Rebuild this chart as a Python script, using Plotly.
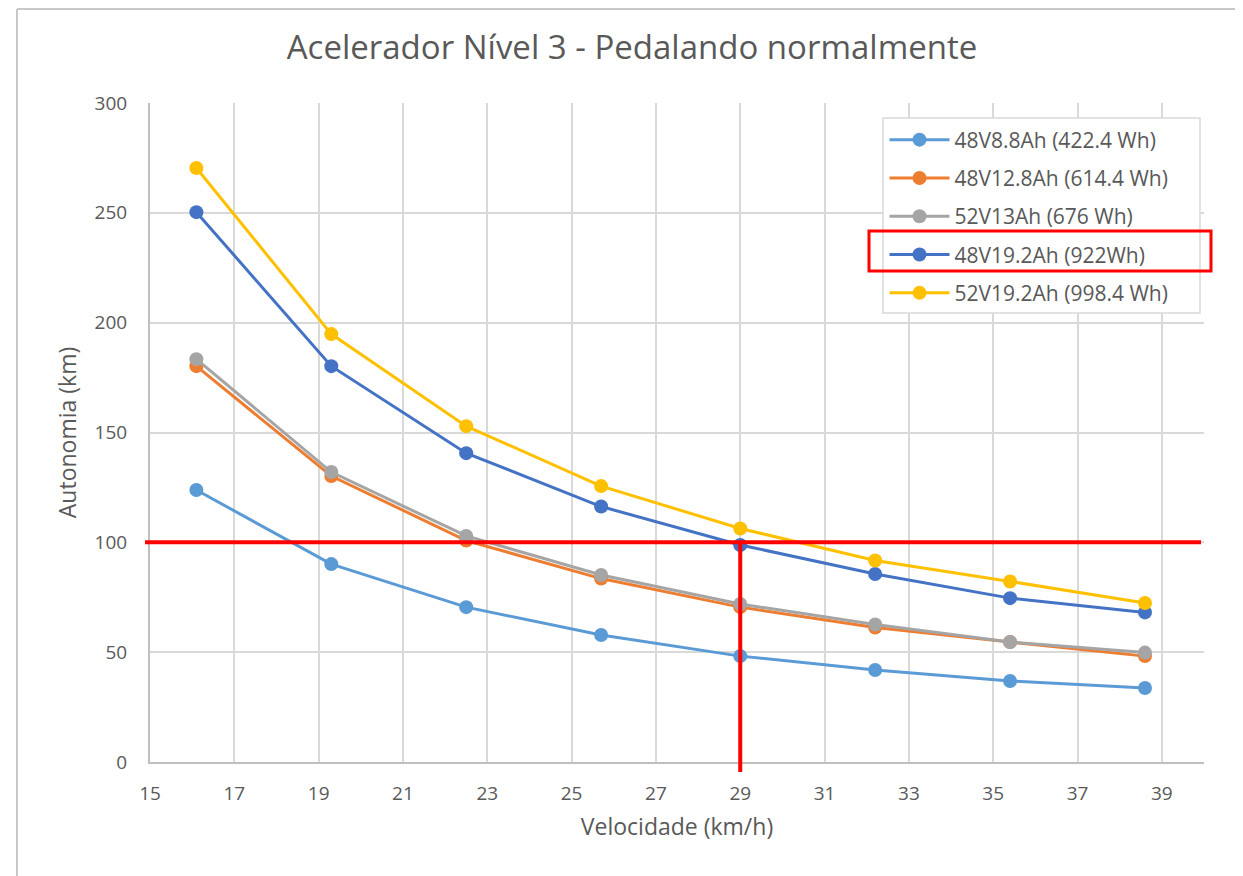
import plotly.graph_objects as go

# ---- data ----
speeds = [16.1, 19.3, 22.5, 25.7, 29.0, 32.2, 35.4, 38.6]
series_names = [
    "48V8.8Ah (422.4 Wh)",
    "48V12.8Ah (614.4 Wh)",
    "52V13Ah (676 Wh)",
    "48V19.2Ah (922Wh)",
    "52V19.2Ah (998.4 Wh)",
]
s_48v88 = [123.8, 90.1, 70.5, 57.8, 48.2, 41.9, 36.9, 33.7]
s_48v128 = [180.2, 130.2, 100.8, 83.5, 70.5, 61.2, 54.6, 48.2]
s_52v13 = [183.4, 132.0, 102.9, 85.1, 71.9, 62.6, 54.6, 49.8]
s_48v192 = [250.3, 180.2, 140.6, 116.3, 98.8, 85.6, 74.6, 68.1]
s_52v192 = [270.4, 194.8, 152.9, 125.6, 106.3, 91.7, 82.2, 72.4]
series_values = [s_48v88, s_48v128, s_52v13, s_48v192, s_52v192]
colors = ["#5B9BD5", "#ED7D31", "#A5A5A5", "#4472C4", "#FFC000"]

ref_speed = 29
ref_range = 100

# ---- layout geometry (page has an 8px body margin) ----
OFF = 8
W, H = 1243 - OFF, 876 - OFF
PLOT_L, PLOT_R, PLOT_T, PLOT_B = 150, 1204, 103, 762  # page pixels
ML = PLOT_L - OFF
MT = PLOT_T - OFF
MR = (W + OFF) - PLOT_R
MB = (H + OFF) - PLOT_B
PW = PLOT_R - PLOT_L
PH = PLOT_B - PLOT_T
X_RANGE = [15, 40]
Y_RANGE = [0, 300]


def px_x(p):
    return (p - PLOT_L) / PW


def px_y(p):
    return (PLOT_B - p) / PH


fig = go.Figure()
for i, (name, vals) in enumerate(zip(series_names, series_values)):
    fig.add_trace(go.Scatter(
        x=speeds, y=vals, name=name, mode="lines+markers",
        line=dict(color=colors[i], width=3),
        marker=dict(color=colors[i], size=14),
        legendgroup=f"g{i}",
    ))

font_color = "#595959"
yref_frac = (ref_range - Y_RANGE[0]) / (Y_RANGE[1] - Y_RANGE[0])
xref_frac = (ref_speed - X_RANGE[0]) / (X_RANGE[1] - X_RANGE[0])
shapes = []
# legend box (drawn as a shape so it can be wider than the entries)
shapes.append(dict(type="rect", xref="paper", yref="paper", layer="above",
                   x0=px_x(883), x1=px_x(1200), y0=px_y(313), y1=px_y(118),
                   line=dict(color="#D9D9D9", width=1.5), fillcolor="white"))
shapes.append(dict(type="line", xref="paper", yref="paper",
                   x0=px_x(145), x1=px_x(1201), y0=yref_frac, y1=yref_frac,
                   line=dict(color="#FF0000", width=4)))
shapes.append(dict(type="line", xref="paper", yref="paper",
                   x0=xref_frac, x1=xref_frac, y0=px_y(772), y1=yref_frac,
                   line=dict(color="#FF0000", width=4)))
# highlight box around legend item
shapes.append(dict(type="rect", xref="paper", yref="paper", layer="above",
                   x0=px_x(869), x1=px_x(1211), y0=px_y(271), y1=px_y(231),
                   line=dict(color="#FF0000", width=3), fillcolor="rgba(0,0,0,0)"))
# outer chart frame
shapes.append(dict(type="line", xref="paper", yref="paper",
                   x0=px_x(17), x1=px_x(1260), y0=px_y(9), y1=px_y(9),
                   line=dict(color="#C8C8C8", width=2)))
shapes.append(dict(type="line", xref="paper", yref="paper",
                   x0=px_x(17), x1=px_x(17), y0=px_y(9), y1=px_y(890),
                   line=dict(color="#C8C8C8", width=2)))

fig.update_layout(
    width=W, height=H,
    margin=dict(l=ML, r=MR, t=MT, b=MB),
    paper_bgcolor="white", plot_bgcolor="white",
    font=dict(family="Open Sans", color=font_color, size=18),
    title=dict(text="Acelerador Nível 3 - Pedalando normalmente",
               x=(632 - OFF) / W, xref="container", xanchor="center",
               y=(H + OFF - 47) / H, yref="container", yanchor="middle",
               font=dict(size=33, color=font_color)),
    xaxis=dict(range=X_RANGE, tick0=15, dtick=2, showgrid=True,
               gridcolor="#D9D9D9", gridwidth=1.5,
               showline=True, linecolor="#BFBFBF", linewidth=2,
               zeroline=False, ticks="", ticklabelstandoff=13,
               tickfont=dict(size=19, color=font_color),
               title=dict(text="Velocidade (km/h)", font=dict(size=23, color=font_color), standoff=14)),
    yaxis=dict(range=Y_RANGE, dtick=50, showgrid=True,
               gridcolor="#D9D9D9", gridwidth=1.5,
               showline=True, linecolor="#BFBFBF", linewidth=2,
               zeroline=False, ticks="", ticklabelstandoff=17,
               tickfont=dict(size=19, color=font_color),
               title=dict(text="Autonomia (km)", font=dict(size=23, color=font_color), standoff=12)),
    legend=dict(x=px_x(883), y=px_y(118), xanchor="left", yanchor="top",
                bgcolor="rgba(0,0,0,0)", bordercolor="rgba(0,0,0,0)", borderwidth=1.5,
                font=dict(size=21, color=font_color), tracegroupgap=8,
                itemwidth=60),
    shapes=shapes,
    showlegend=True,
)

fig.write_html("out.html")
